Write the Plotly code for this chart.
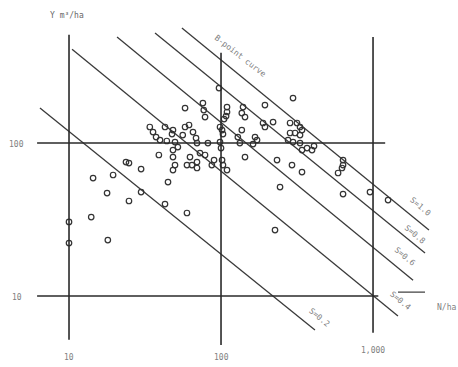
import math
import plotly.graph_objects as go

# ---------------- data ----------------
# stand density N (trees/ha) and stand volume Y (m3/ha) of observed plots
n_obs = [10, 10, 14, 18, 14.4, 19.5, 17.8, 24.8, 23.7, 29.8, 24.8, 29.8, 42.8, 59.7, 44.8,
         34, 35.7, 37.4, 39.7, 42.8, 48.3, 47.6, 58, 61.6, 65.4, 68.5, 56, 44, 49.8,
         52, 69.5, 82, 72.7, 78.5, 39, 48.3, 48.3, 49.8, 48.3, 59.7, 64.4, 69.5, 69.5,
         62.5, 58, 76, 77, 78.5, 87, 90,
         97, 109.5, 109.5, 108, 104.7, 98.5, 101.6, 103, 98.5, 100, 101.6, 103, 109.5,
         139.6, 137, 143.8, 137, 129, 133, 143.8, 194.5, 189, 194.5, 220, 167.4, 172.6,
         162.4, 233.6, 244.5, 226.6,
         297.6, 284.6, 316, 331, 341, 284.6, 307, 331, 276, 297.6, 331, 341, 368, 397,
         409, 293, 341, 635, 635, 625, 589, 635, 955, 1256]
y_obs = [30.5, 22.2, 32.8, 23.2, 59, 61.8, 47.1, 74, 75.1, 67.6, 41.8, 47.8, 39.9, 34.9, 55.6,
         127.3, 118, 109.4, 104.6, 127.3, 121.6, 114.5, 127.3, 131.2, 118, 107.8, 112.8,
         103.1, 101.5, 94.1, 100, 100, 86, 83.5, 83.5, 90, 81, 71.8, 66.6, 71.8, 71.8,
         75.1, 68.7, 81, 169.3, 182.5, 164.3, 147.9, 71.8, 77.4,
         228.6, 171.9, 159.5, 150, 143.5, 127.3, 121.6, 114.5, 101.5, 92.7, 77.4, 71.8,
         66.6, 171.9, 157, 147.9, 121.6, 109.4, 100, 81, 177, 135.2, 127.3, 137, 109.4,
         104.6, 98.5, 77.4, 51.5, 27,
         196.8, 135.2, 135.2, 127.3, 121.6, 116.3, 116.3, 112.8, 104.6, 101.5, 100, 90,
         92.7, 90, 95.5, 71.8, 64.6, 77.4, 71.8, 68.7, 63.7, 46.4, 47.8, 42.4]

# relative density (S) lines: end points (N, Y)
s_labels = ["S=0.2", "S=0.4", "S=0.6", "S=0.8", "S=1.0"]
s_n_start = [6.44, 10.47, 20.7, 36.8, 55.3]
s_y_start = [169.4, 411, 493, 524, 565]
s_n_end = [415, 1459, 1834, 2198, 2333]
s_y_end = [6.0, 7.4, 12.7, 19.1, 27]

x_ticks = [10, 100, 1000]
x_tick_text = ["10", "100", "1,000"]
y_ticks = [10, 100]
y_tick_text = ["10", "100"]

# ---------------- figure ----------------
LINE = "#3a3a3a"
TXT = "#808080"
FONT = "DejaVu Sans Mono"

fig = go.Figure()

for i in range(len(s_labels)):
    fig.add_trace(go.Scatter(
        x=[s_n_start[i], s_n_end[i]], y=[s_y_start[i], s_y_end[i]],
        mode="lines", line=dict(color=LINE, width=1.3), hoverinfo="skip",
        showlegend=False))

fig.add_trace(go.Scatter(
    x=n_obs, y=y_obs, mode="markers",
    marker=dict(symbol="circle-open", size=5.5, color="#333333",
                line=dict(width=1.2, color="#333333")),
    showlegend=False, cliponaxis=False))

# axis / reference lines at the tick values
v_extent = {10: (0.074, 0.905), 100: (0.060, 0.856), 1000: (0.093, 0.899)}
for t in x_ticks:
    y0, y1 = v_extent[t]
    fig.add_shape(type="line", xref="x", yref="paper", x0=t, x1=t, y0=y0, y1=y1,
                  line=dict(color="#2a2a2a", width=1.6))
h_extent = {10: (0.081, 0.826), 100: (0.081, 0.841)}
for t in y_ticks:
    x0, x1 = h_extent[t]
    fig.add_shape(type="line", xref="paper", yref="y", x0=x0, x1=x1, y0=t, y1=t,
                  line=dict(color="#2a2a2a", width=1.6))
# short arrow segment of the N axis
fig.add_shape(type="line", xref="paper", yref="paper", x0=0.869, x1=0.928,
              y0=0.204, y1=0.204, line=dict(color="#555555", width=1.4))

C = dict(xanchor="center", yanchor="middle", showarrow=False)
ann = []
tick_y = [0.027, 0.027, 0.046]
for t, lab, py in zip(x_ticks, x_tick_text, tick_y):
    # annotation positions on log axes are given in log10 units
    ann.append(dict(x=math.log10(t), y=py, xref="x", yref="paper", text=lab,
                    font=dict(size=8, color=TXT, family=FONT), **C))
for t, lab in zip(y_ticks, y_tick_text):
    ann.append(dict(x=0.037, y=math.log10(t) - 0.01, xref="paper", yref="y", text=lab,
                    font=dict(size=8, color=TXT, family=FONT), **C))

s_pos = [(0.697, 0.134), (0.873, 0.180), (0.884, 0.302), (0.906, 0.362), (0.917, 0.436)]
for lab, (px, py) in zip(s_labels, s_pos):
    ann.append(dict(x=px, y=py, xref="paper", yref="paper", text=lab,
                    textangle=40, font=dict(size=8, color=TXT, family=FONT), **C))

ann.append(dict(x=0.526, y=0.847, xref="paper", yref="paper", text="B-point curve",
                textangle=38, font=dict(size=8, color=TXT, family=FONT), **C))
ann.append(dict(x=0.146, y=0.959, xref="paper", yref="paper", text="Y m³/ha",
                font=dict(size=8, color="#666666", family=FONT), **C))
ann.append(dict(x=0.975, y=0.163, xref="paper", yref="paper", text="N/ha",
                font=dict(size=8, color=TXT, family=FONT), **C))

fig.update_layout(
    width=458, height=367,
    margin=dict(l=0, r=0, t=0, b=0),
    paper_bgcolor="white", plot_bgcolor="white",
    xaxis=dict(type="log", range=[0.546, 3.559], visible=False),
    yaxis=dict(type="log", range=[0.536, 2.935], visible=False),
    annotations=ann,
    showlegend=False,
)

fig.write_html("out.html", config={"displayModeBar": False},
               post_script="document.body.style.margin='0';document.body.style.overflow='hidden';")
